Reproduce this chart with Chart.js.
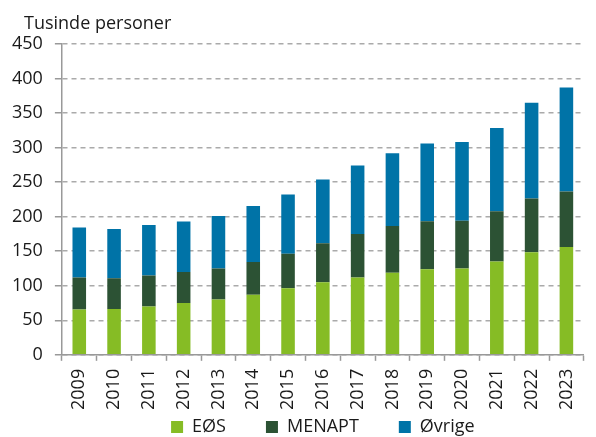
<!DOCTYPE html>
<html>
<head>
<meta charset="utf-8">
<script src="https://cdn.jsdelivr.net/npm/chart.js@4/dist/chart.umd.min.js"></script>
<style>
  html, body { margin: 0; padding: 0; background: #fff; }
  #wrap { width: 596px; height: 437px; position: relative; }
</style>
</head>
<body>
<div id="wrap"><canvas id="c"></canvas></div>
<script>
// data (thousands of persons)
const years = ['2009', '2010', '2011', '2012', '2013', '2014', '2015', '2016',
  '2017', '2018', '2019', '2020', '2021', '2022', '2023'];
const eos = [65.5, 66.5, 70, 75, 80, 87, 96.5, 105, 112, 119, 124, 125, 135, 148.5, 156];
const menapt = [46.5, 44.5, 45, 45, 45, 47.5, 50, 56.5, 63, 67.5, 69.5, 69, 73, 78, 80.5];
const ovrige = [72.5, 71, 73, 73, 76, 81, 85.5, 92.5, 99, 105.5, 112.5, 114, 120.5, 138.5, 150.5];
const yTicks = [0, 50, 100, 150, 200, 250, 300, 350, 400, 450];

const FONT = "'Open Sans', 'Noto Sans', sans-serif";
const TEXT = '#1a1a1a';
const AXIS = '#999';
const LEGEND_PAD = 40;

// enhet øverst til venstre
const unitTitle = {
  id: 'unitTitle',
  afterDraw(chart) {
    const ctx = chart.ctx;
    ctx.save();
    ctx.font = '18px ' + FONT;
    ctx.fillStyle = TEXT;
    ctx.textBaseline = 'alphabetic';
    ctx.textAlign = 'left';
    ctx.fillText('Tusinde personer', 24, 29);
    ctx.restore();
  }
};

// legenden trenger stor padding mellom elementene, men skal ligge tett under årstallene
const legendUp = {
  id: 'legendUp',
  afterLayout(chart) {
    const l = chart.legend;
    if (!l) return;
    const shift = l.top + LEGEND_PAD - 418;
    l.top -= shift;
    l.bottom -= shift;
  }
};

function ds(label, data, color) {
  return {
    label: label,
    data: data,
    backgroundColor: color,
    borderWidth: 0,
    barPercentage: 0.39,
    categoryPercentage: 1.0
  };
}

new Chart(document.getElementById('c'), {
  type: 'bar',
  data: {
    labels: years,
    datasets: [
      ds('EØS', eos, '#86bc25'),
      ds('MENAPT', menapt, '#2c5234'),
      ds('Øvrige', ovrige, '#0073a7')
    ]
  },
  options: {
    responsive: true,
    maintainAspectRatio: false,
    animation: false,
    layout: { padding: { top: 44, right: 0, left: 0, bottom: -49 } },
    scales: {
      x: {
        stacked: true,
        border: { display: true, color: AXIS, width: 1.5 },
        grid: {
          display: true,
          offset: true,
          drawOnChartArea: false,
          drawTicks: true,
          tickLength: 6,
          tickColor: AXIS,
          tickWidth: 1.5
        },
        ticks: {
          minRotation: 90,
          maxRotation: 90,
          padding: 8,
          color: TEXT,
          font: { family: FONT, size: 18 }
        }
      },
      y: {
        stacked: true,
        min: 0,
        max: 450,
        afterBuildTicks(axis) {
          axis.ticks = yTicks.map(v => ({ value: v }));
        },
        border: { display: true, color: AXIS, width: 1.5, dash: [5, 4] },
        grid: {
          color: '#aaa',
          lineWidth: 1.5,
          tickLength: 7,
          tickColor: AXIS,
          tickBorderDash: []
        },
        ticks: {
          padding: 12,
          color: TEXT,
          font: { family: FONT, size: 18 }
        }
      }
    },
    plugins: {
      legend: {
        position: 'bottom',
        fullSize: false,
        labels: {
          boxWidth: 12,
          boxHeight: 12,
          padding: LEGEND_PAD,
          color: TEXT,
          font: { family: FONT, size: 18 }
        }
      },
      tooltip: { enabled: false }
    }
  },
  plugins: [unitTitle, legendUp]
});
</script>
</body>
</html>
